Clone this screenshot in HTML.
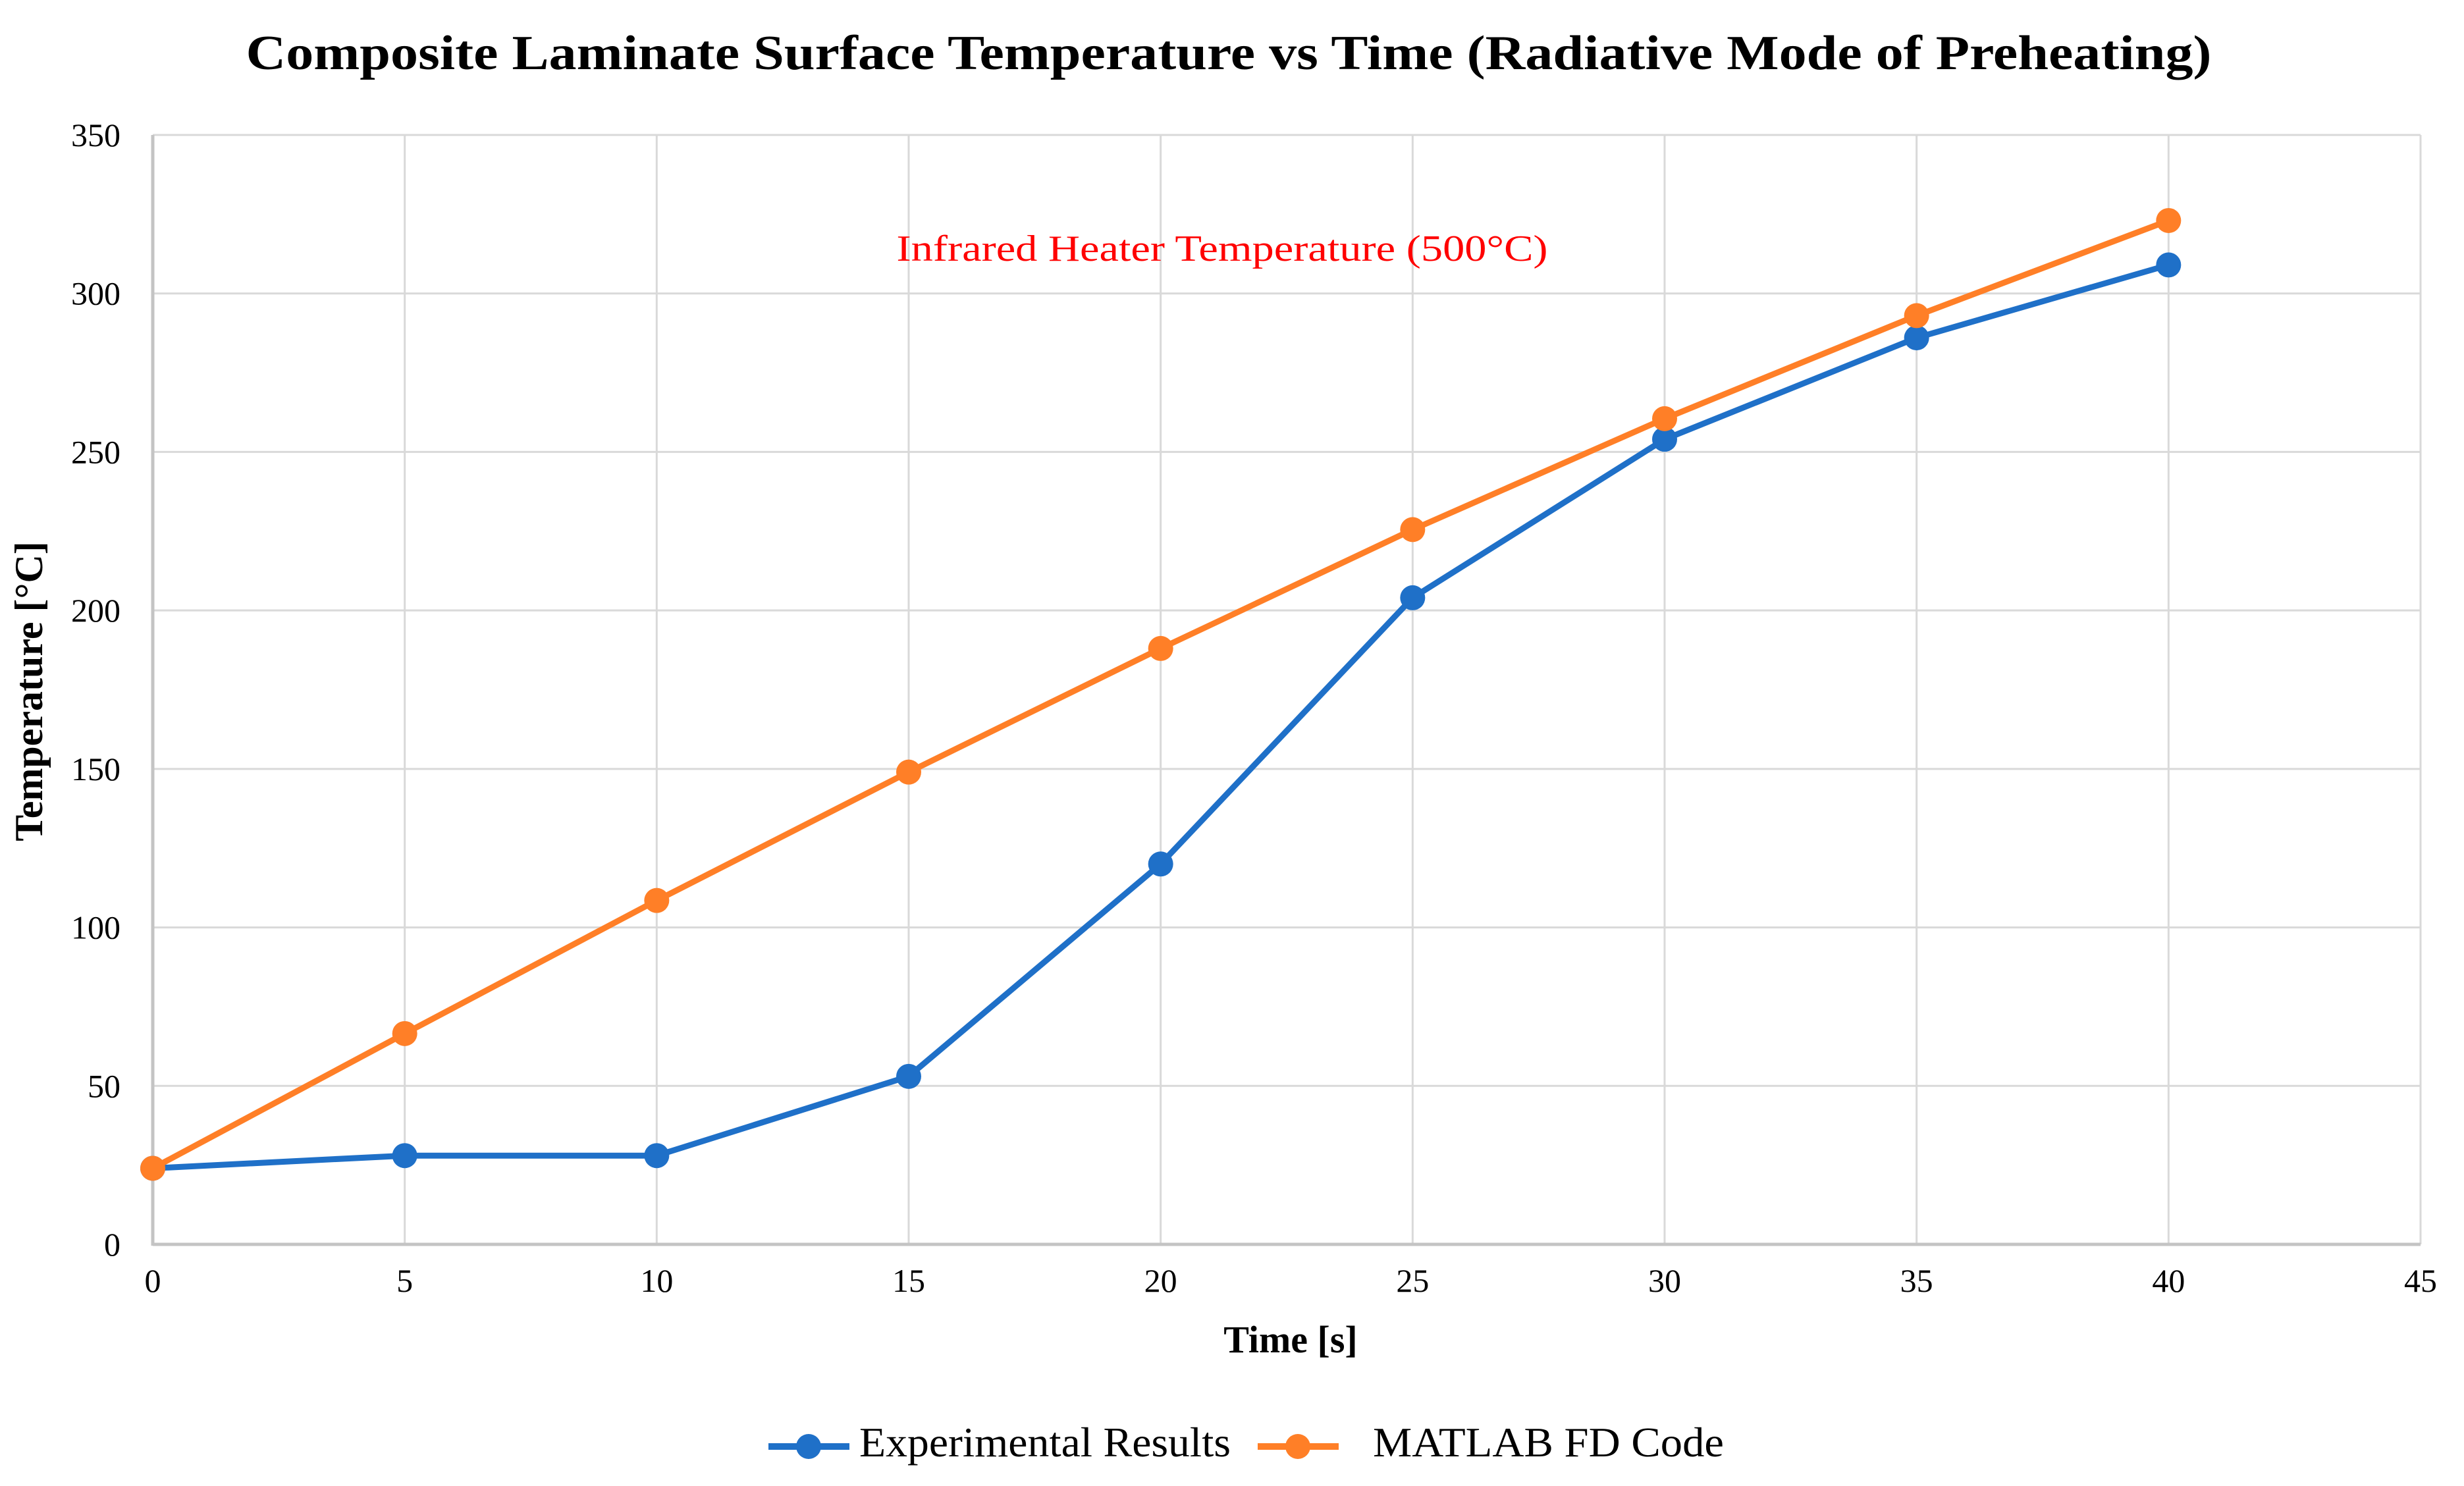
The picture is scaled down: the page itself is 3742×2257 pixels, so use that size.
<!DOCTYPE html>
<html><head><meta charset="utf-8"><style>
html,body{margin:0;padding:0;background:#fff;}
svg{display:block;font-family:"Liberation Serif",serif;}
</style></head><body>
<svg id="chart" width="3742" height="2257" viewBox="0 0 3742 2257" xmlns="http://www.w3.org/2000/svg">
<rect width="3742" height="2257" fill="#fff"/>
<text x="1866" y="105" text-anchor="middle" font-size="74" font-weight="bold" textLength="2985" lengthAdjust="spacingAndGlyphs">Composite Laminate Surface Temperature vs Time (Radiative Mode of Preheating)</text>
<g id="grid"></g>
<g id="axes"></g>
<g id="series"></g>
<text x="1856" y="396" text-anchor="middle" font-size="56" fill="#ff0000" textLength="989" lengthAdjust="spacingAndGlyphs">Infrared Heater Temperature (500°C)</text>
<text x="1960" y="2054" text-anchor="middle" font-size="58" font-weight="bold">Time [s]</text>
<text transform="translate(64,1050) rotate(-90)" text-anchor="middle" font-size="60" font-weight="bold">Temperature [°C]</text>
<g>
<g>
<line x1="1167" y1="2197" x2="1290" y2="2197" stroke="#1f70c8" stroke-width="10"/>
<circle cx="1228" cy="2197" r="19" fill="#1f70c8"/>
<text x="1305" y="2212" font-size="64" textLength="564" lengthAdjust="spacingAndGlyphs">Experimental Results</text>
</g>
<g>
<line x1="1910" y1="2197" x2="2033" y2="2197" stroke="#ff7f27" stroke-width="10"/>
<circle cx="1971" cy="2197" r="19" fill="#ff7f27"/>
<text x="2085" y="2212" font-size="64" textLength="533" lengthAdjust="spacingAndGlyphs">MATLAB FD Code</text>
</g>
</g>
</svg>
<script>
const xValues = [0, 5, 10, 15, 20, 25, 30, 35, 40];
const experimental = [24, 28, 28, 53, 120, 204, 254, 286, 309];
const matlab = [24, 66.5, 108.5, 149, 188, 225.5, 260.5, 293, 323];
const xTicks = [0, 5, 10, 15, 20, 25, 30, 35, 40, 45];
const yTicks = [0, 50, 100, 150, 200, 250, 300, 350];

const NS = "http://www.w3.org/2000/svg";
const L = 232, R = 3676, T = 205, B = 1890;
const xs = v => L + (v - 0) / 45 * (R - L);
const ys = v => B - v / 350 * (B - T);
function mk(tag, attrs, parent) {
  const e = document.createElementNS(NS, tag);
  for (const k in attrs) e.setAttribute(k, attrs[k]);
  parent.appendChild(e);
  return e;
}
const grid = document.getElementById('grid');
const axes = document.getElementById('axes');
const series = document.getElementById('series');

yTicks.forEach(v => {
  if (v > 0) {
    const g = mk('line', {x1: L, x2: R, y1: ys(v), y2: ys(v), stroke: '#d9d9d9', 'stroke-width': 3}, grid);
    
    
  }
  const t = mk('text', {x: 183, y: ys(v) + 17, 'text-anchor': 'end', 'font-size': 50}, axes);
  t.textContent = v;
  
  
});
xTicks.forEach(v => {
  if (v > 0) {
    const g = mk('line', {x1: xs(v), x2: xs(v), y1: T, y2: B, stroke: '#d9d9d9', 'stroke-width': 3}, grid);
    
    
  }
  const t = mk('text', {x: xs(v), y: 1962, 'text-anchor': 'middle', 'font-size': 50}, axes);
  t.textContent = v;
  
  
});
const ax1 = mk('line', {x1: L, x2: L, y1: T, y2: B + 2, stroke: '#c4c4c4', 'stroke-width': 5}, axes);


const ax2 = mk('line', {x1: L, x2: R, y1: B, y2: B, stroke: '#c4c4c4', 'stroke-width': 5}, axes);



function drawSeries(vals, color, name) {
  const pts = vals.map((v, i) => xs(xValues[i]) + ',' + ys(v)).join(' ');
  const pl = mk('polyline', {points: pts, fill: 'none', stroke: color, 'stroke-width': 9, 'stroke-linejoin': 'round'}, series);
  
  
  vals.forEach((v, i) => {
    const c = mk('circle', {cx: xs(xValues[i]), cy: ys(v), r: 19, fill: color}, series);
    
    
  });
}
drawSeries(experimental, '#1f70c8', 'experimental');
drawSeries(matlab, '#ff7f27', 'matlab');
</script>
</body></html>
